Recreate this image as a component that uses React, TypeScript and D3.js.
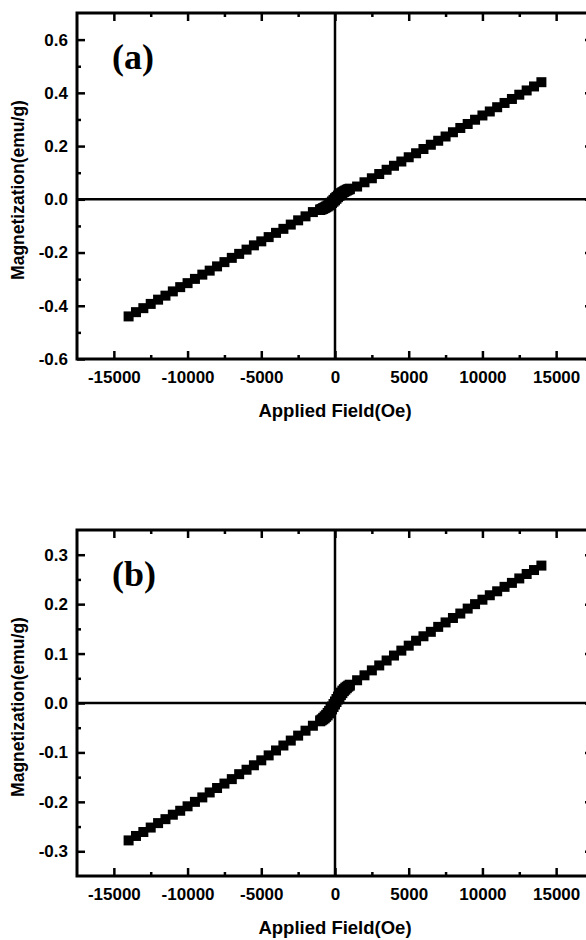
import * as React from 'react';
import {useEffect, useRef} from 'react';
import * as d3 from 'd3';

// High-field part of the sweep (Oe), shared by both samples
const fieldSweep = [
  -14000, -13500, -13000, -12500, -12000, -11500, -11000, -10500, -10000, -9500,
  -9000, -8500, -8000, -7500, -7000, -6500, -6000, -5500, -5000, -4500,
  -4000, -3500, -3000, -2500, -2000, -1500,
  1500, 2000, 2500, 3000, 3500, 4000, 4500, 5000, 5500, 6000,
  6500, 7000, 7500, 8000, 8500, 9000, 9500, 10000, 10500, 11000,
  11500, 12000, 12500, 13000, 13500, 14000
];

// Low-field part, measured densely on both branches (Oe)
const fieldLow = [
  -1000, -900, -800, -700, -600, -500, -400, -300, -200, -100, 0,
  100, 200, 300, 400, 500, 600, 700, 800, 900, 1000
];

// sample (a), emu/g
const momentA = [
  -0.440, -0.424, -0.409, -0.393, -0.377, -0.362, -0.346, -0.330, -0.315, -0.299,
  -0.283, -0.268, -0.252, -0.236, -0.220, -0.205, -0.189, -0.173, -0.158, -0.142,
  -0.126, -0.111, -0.095, -0.079, -0.064, -0.048,
  0.048, 0.064, 0.079, 0.095, 0.111, 0.126, 0.142, 0.158, 0.173, 0.189,
  0.205, 0.220, 0.236, 0.252, 0.268, 0.283, 0.299, 0.315, 0.330, 0.346,
  0.362, 0.377, 0.393, 0.409, 0.424, 0.440
];
const momentAUp = [
  -0.040, -0.038, -0.036, -0.033, -0.030, -0.027, -0.023, -0.019, -0.014, -0.009, -0.004,
  0.002, 0.008, 0.013, 0.018, 0.023, 0.027, 0.030, 0.033, 0.036, 0.038
];
const momentADown = [
  -0.038, -0.036, -0.033, -0.030, -0.027, -0.023, -0.018, -0.013, -0.008, -0.002, 0.004,
  0.009, 0.014, 0.019, 0.023, 0.027, 0.030, 0.033, 0.036, 0.038, 0.040
];

// sample (b), emu/g
const momentB = [
  -0.278, -0.269, -0.261, -0.252, -0.243, -0.235, -0.226, -0.218, -0.209, -0.200,
  -0.191, -0.181, -0.172, -0.163, -0.154, -0.144, -0.135, -0.126, -0.116, -0.106,
  -0.096, -0.086, -0.076, -0.066, -0.056, -0.046,
  0.046, 0.056, 0.066, 0.076, 0.086, 0.096, 0.106, 0.116, 0.126, 0.135,
  0.144, 0.154, 0.163, 0.172, 0.181, 0.191, 0.200, 0.209, 0.218, 0.226,
  0.235, 0.243, 0.252, 0.261, 0.269, 0.278
];
const momentBUp = [
  -0.037, -0.035, -0.033, -0.031, -0.028, -0.025, -0.021, -0.017, -0.013, -0.008, -0.003,
  0.002, 0.007, 0.012, 0.016, 0.020, 0.024, 0.027, 0.030, 0.033, 0.035
];
const momentBDown = [
  -0.035, -0.033, -0.030, -0.027, -0.024, -0.020, -0.016, -0.012, -0.007, -0.002, 0.003,
  0.008, 0.013, 0.017, 0.021, 0.025, 0.028, 0.031, 0.033, 0.035, 0.037
];

const xTicks = [-15000, -10000, -5000, 0, 5000, 10000, 15000];
const xMinorTicks = [-12500, -7500, -2500, 2500, 7500, 12500];
const yTicksA = [-0.6, -0.4, -0.2, 0, 0.2, 0.4, 0.6];
const yMinorA = [-0.5, -0.3, -0.1, 0.1, 0.3, 0.5];
const yTicksB = [-0.3, -0.2, -0.1, 0, 0.1, 0.2, 0.3];
const yMinorB = [-0.25, -0.15, -0.05, 0.05, 0.15, 0.25];

const panels = [
  {label: '(a)', top: 13, yDomain: [-0.6, 0.7], yTicks: yTicksA, yMinor: yMinorA,
    moment: momentA, up: momentAUp, down: momentADown},
  {label: '(b)', top: 530, yDomain: [-0.35, 0.35], yTicks: yTicksB, yMinor: yMinorB,
    moment: momentB, up: momentBUp, down: momentBDown}
];

const W = 586;
const H = 940;
const left = 77;
const right = 593;
const plotH = 346;
const sans = '"Liberation Sans", Arial, sans-serif';

export default function App() {
  const ref = useRef<SVGSVGElement>(null);

  useEffect(() => {
    const svg = d3.select(ref.current);
    svg.selectAll('*').remove();

    panels.forEach(p => {
      const top = p.top;
      const bottom = top + plotH;
      const x = d3.scaleLinear().domain([-17500, 17500]).range([left, right]);
      const y = d3.scaleLinear().domain(p.yDomain).range([bottom, top]);
      const g = svg.append('g');

      // zero cross lines
      g.append('line')
        .attr('x1', left).attr('x2', right)
        .attr('y1', y(0)).attr('y2', y(0))
        .attr('stroke', '#000').attr('stroke-width', 2.5);
      g.append('line')
        .attr('x1', x(0)).attr('x2', x(0))
        .attr('y1', top).attr('y2', bottom)
        .attr('stroke', '#000').attr('stroke-width', 2.5);

      const pts: [number, number][] = [];
      fieldSweep.forEach((h, i) => pts.push([h, p.moment[i]]));
      fieldLow.forEach((h, i) => pts.push([h, p.up[i]]));
      fieldLow.forEach((h, i) => pts.push([h, p.down[i]]));

      const s = 10;
      g.append('g')
        .selectAll('rect')
        .data(pts)
        .join('rect')
        .attr('x', d => x(d[0]) - s / 2)
        .attr('y', d => y(d[1]) - s / 2)
        .attr('width', s)
        .attr('height', s)
        .attr('fill', '#000');

      const styleAxis = (sel: any) => {
        sel.select('.domain').remove();
        sel.selectAll('.tick line').attr('stroke', '#000').attr('stroke-width', 2.5);
        sel.selectAll('text')
          .attr('fill', '#000')
          .style('font-family', sans)
          .style('font-weight', 'bold')
          .style('font-size', '17px');
      };

      const fmtX = (d: any) => d3.format('d')(d).replace('−', '-');
      const fmtY = (d: any) => d3.format('.1f')(d).replace('−', '-');

      g.append('g').attr('transform', `translate(0,${bottom})`)
        .call(d3.axisBottom(x).tickValues(xTicks).tickSize(-8).tickPadding(12).tickFormat(fmtX))
        .call(styleAxis);
      g.append('g').attr('transform', `translate(0,${bottom})`)
        .call(d3.axisBottom(x).tickValues(xMinorTicks).tickSize(-4).tickFormat(() => ''))
        .call(styleAxis);
      g.append('g').attr('transform', `translate(0,${top})`)
        .call(d3.axisTop(x).tickValues(xTicks).tickSize(-8).tickFormat(() => ''))
        .call(styleAxis);
      g.append('g').attr('transform', `translate(0,${top})`)
        .call(d3.axisTop(x).tickValues(xMinorTicks).tickSize(-4).tickFormat(() => ''))
        .call(styleAxis);

      g.append('g').attr('transform', `translate(${left},0)`)
        .call(d3.axisLeft(y).tickValues(p.yTicks).tickSize(-8).tickPadding(9).tickFormat(fmtY))
        .call(styleAxis);
      g.append('g').attr('transform', `translate(${left},0)`)
        .call(d3.axisLeft(y).tickValues(p.yMinor).tickSize(-4).tickFormat(() => ''))
        .call(styleAxis);
      g.append('g').attr('transform', `translate(${right},0)`)
        .call(d3.axisRight(y).tickValues(p.yTicks).tickSize(-8).tickFormat(() => ''))
        .call(styleAxis);
      g.append('g').attr('transform', `translate(${right},0)`)
        .call(d3.axisRight(y).tickValues(p.yMinor).tickSize(-4).tickFormat(() => ''))
        .call(styleAxis);

      // frame
      g.append('rect')
        .attr('x', left).attr('y', top)
        .attr('width', right - left).attr('height', plotH)
        .attr('fill', 'none').attr('stroke', '#000').attr('stroke-width', 3);

      g.append('text')
        .attr('x', 112).attr('y', top + 56)
        .style('font-family', '"Liberation Serif", "Times New Roman", serif')
        .style('font-weight', 'bold')
        .style('font-size', '36px')
        .text(p.label);

      g.append('text')
        .attr('x', (left + right) / 2).attr('y', bottom + 58)
        .attr('text-anchor', 'middle')
        .style('font-family', sans)
        .style('font-weight', 'bold')
        .style('font-size', '18.5px')
        .text('Applied Field(Oe)');

      g.append('text')
        .attr('transform', `translate(24,${(top + bottom) / 2 + 4}) rotate(-90)`)
        .attr('text-anchor', 'middle')
        .style('font-family', sans)
        .style('font-weight', 'bold')
        .style('font-size', '17.5px')
        .text('Magnetization(emu/g)');
    });
  }, []);

  return (
    <svg ref={ref} width={W} height={H}
      style={{position: 'absolute', left: 0, top: 0, background: '#fff'}}/>
  );
}
